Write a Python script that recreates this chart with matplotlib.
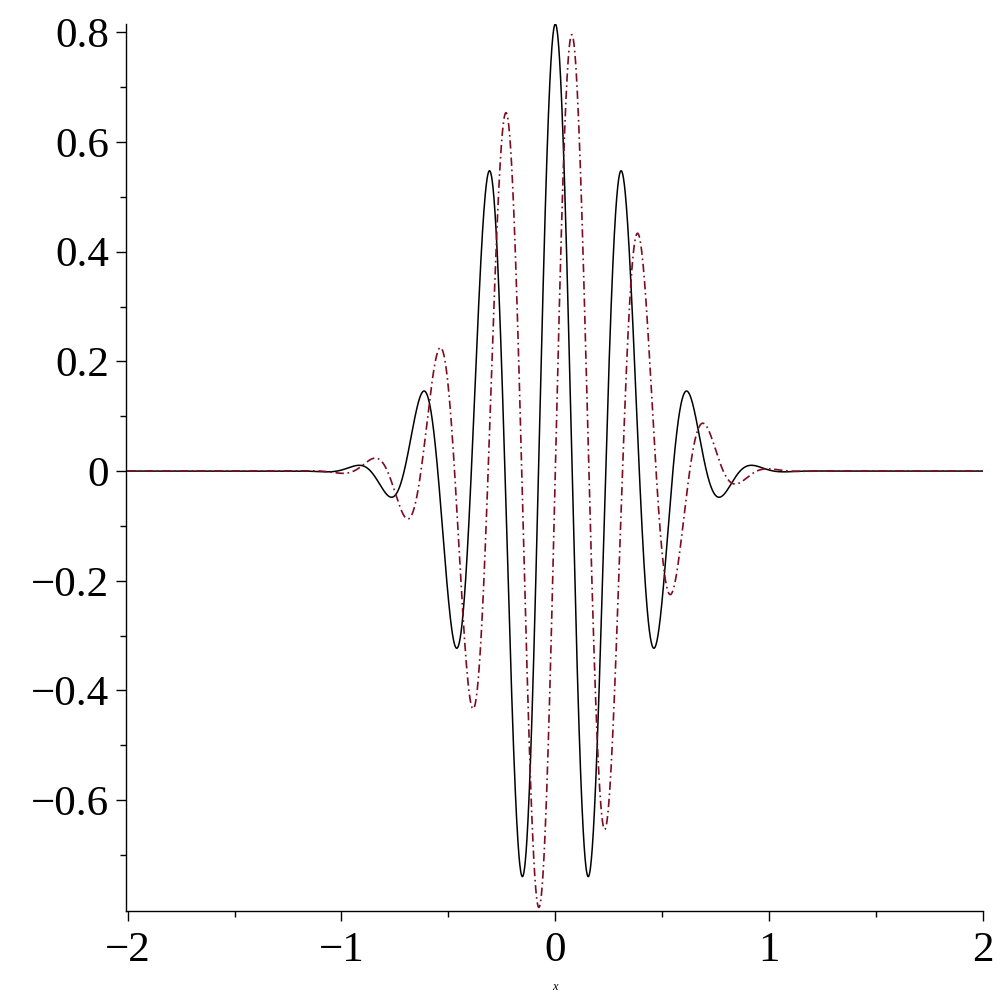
import numpy as np
import matplotlib.pyplot as plt

# wave packet parameters
amplitude = 0.815      # height of the central peak at x = 0
decay = 4.0            # envelope exp(-decay * x^2 - decay4 * x^4)
decay4 = 1.2           # tails die out faster than a pure gaussian
omega = 20.0           # troughs at +-0.157 -> angular frequency 20

x_ticks = [-2, -1, 0, 1, 2]
x_ticklabels = ['\u22122', '\u22121', '0', '1', '2']
y_ticks = [-0.6, -0.4, -0.2, 0, 0.2, 0.4, 0.6, 0.8]
y_ticklabels = ['\u22120.6', '\u22120.4', '\u22120.2', '0', '0.2', '0.4', '0.6', '0.8']

x = np.linspace(-2, 2, 4001)
envelope = amplitude * np.exp(-decay * x**2 - decay4 * x**4)
re_part = envelope * np.cos(omega * x)
im_part = envelope * np.sin(omega * x)

plt.rcParams['font.family'] = ['Liberation Serif', 'DejaVu Serif']

fig = plt.figure(figsize=(10, 10), dpi=100)
ax = fig.add_axes([0.1255, 0.089, 0.8575, 0.887])

ax.plot(x, re_part, color='black', lw=1.1)
ax.plot(x, im_part, color='#7d0c1f', lw=1.2, linestyle=(0, (5, 2.2, 1, 2.2)))

ax.set_xlim(-2.01, 2.0)
ax.set_ylim(-0.802, 0.815)

for side in ['top', 'right']:
    ax.spines[side].set_visible(False)
for side in ['left', 'bottom']:
    ax.spines[side].set_linewidth(1.0)

ax.set_xticks(x_ticks)
ax.set_xticklabels(x_ticklabels)
ax.set_yticks(y_ticks)
ax.set_yticklabels(y_ticklabels)
ax.set_xticks(np.arange(-1.5, 2.0, 1.0), minor=True)
ax.set_yticks(np.arange(-0.7, 0.81, 0.2), minor=True)
ax.tick_params(which='major', length=7, width=1.0, labelsize=31, pad=5)
ax.tick_params(which='minor', length=4.3, width=1.0)
ax.tick_params(axis='x', which='major', pad=8)

fig.text(0.555, 0.013, 'x', style='italic', fontsize=9, ha='center', va='center')

plt.savefig('out.png', dpi=100)
